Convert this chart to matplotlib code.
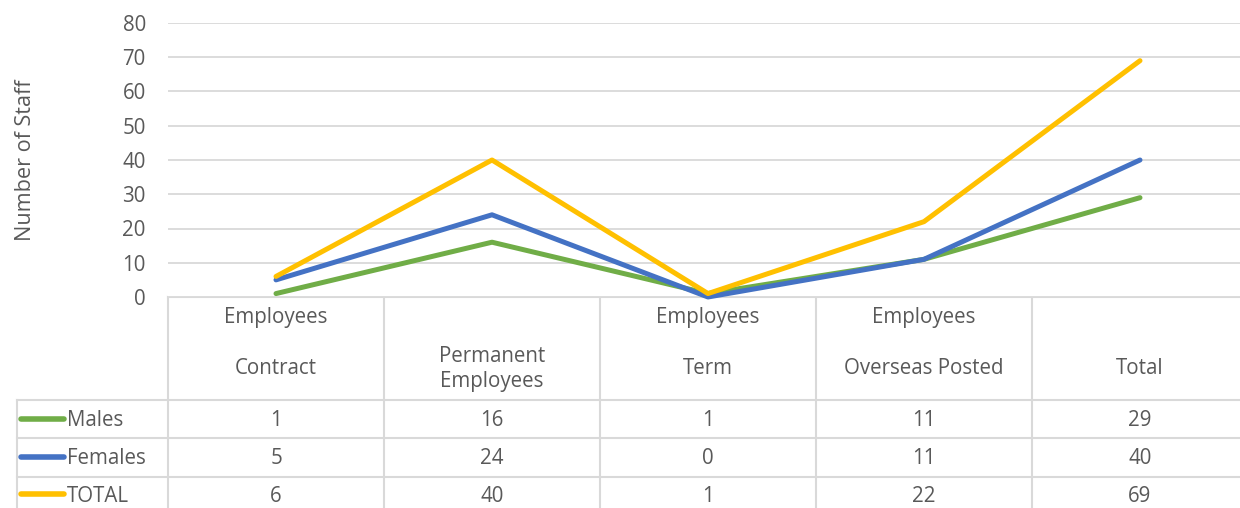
import numpy as np
import matplotlib.pyplot as plt

plt.rcParams['font.family'] = ['Open Sans', 'DejaVu Sans']

categories = ["Contract", "Permanent\nEmployees", "Term", "Overseas Posted", "Total"]
cat_top = ["Employees", "", "Employees", "Employees", ""]
series_names = ["Males", "Females", "TOTAL"]
males = [1, 16, 1, 11, 29]
females = [5, 24, 0, 11, 40]
total = [6, 40, 1, 22, 69]
colors = ["#70AD47", "#4472C4", "#FFC000"]
yticks = [0, 10, 20, 30, 40, 50, 60, 70, 80]

W, H = 1240, 508
txt = "#595959"
grid = "#d9d9d9"
fs = 14.8

fig = plt.figure(figsize=(W / 100, H / 100), dpi=100)

# table layer in pixel coords
tab = fig.add_axes([0, 0, 1, 1])
tab.set_xlim(0, W)
tab.set_ylim(H, 0)
tab.axis("off")

# plot area
x0, x1, y0, y1 = 168, 1248, 297, 23
ax = fig.add_axes([x0 / W, (H - y0) / H, (x1 - x0) / W, (y0 - y1) / H])
ax.set_xlim(0, len(categories))
ax.set_ylim(0, 80)
ax.set_yticks(yticks)
ax.yaxis.grid(True, color=grid, lw=1.3)
ax.set_axisbelow(True)
ax.set_xticks([])
for s in ax.spines.values():
    s.set_visible(False)
ax.tick_params(axis="y", length=0, labelsize=fs, labelcolor=txt, pad=16)
ax.set_ylabel("Number of Staff", fontsize=fs + 0.8, color=txt, labelpad=62)

xs = np.arange(len(categories)) + 0.5
for vals, c in zip([males, females, total], colors):
    ax.plot(xs, vals, color=c, lw=3.6, solid_capstyle="round", clip_on=False)

# data table
cw = (x1 - x0) / len(categories)
row_lines = [400, 438, 477]
tab.plot([x0, W], [y0, y0], color=grid, lw=1.5)
for r in row_lines:
    tab.plot([17, W], [r, r], color=grid, lw=1.5)
tab.plot([17, 17], [row_lines[0], H], color=grid, lw=1.5)
for i in range(len(categories)):
    xl = x0 + i * cw
    tab.plot([xl, xl], [y0, H], color=grid, lw=1.5)
    xc = xl + cw / 2
    if cat_top[i]:
        tab.text(xc, 318, cat_top[i], ha="center", va="center", fontsize=fs, color=txt)
    tab.text(xc, 369, categories[i], ha="center", va="center", fontsize=fs,
             color=txt, linespacing=1.3)

row_c = [421, 459, 496]
for j, (name, vals, c) in enumerate(zip(series_names, [males, females, total], colors)):
    yc = row_c[j]
    tab.plot([21, 64], [yc - 2, yc - 2], color=c, lw=4, solid_capstyle="round")
    tab.text(67, yc, name, ha="left", va="center", fontsize=fs, color=txt)
    for i, v in enumerate(vals):
        tab.text(x0 + i * cw + cw / 2, yc, str(v), ha="center", va="center",
                 fontsize=fs, color=txt)

fig.savefig("out.png", dpi=100)
